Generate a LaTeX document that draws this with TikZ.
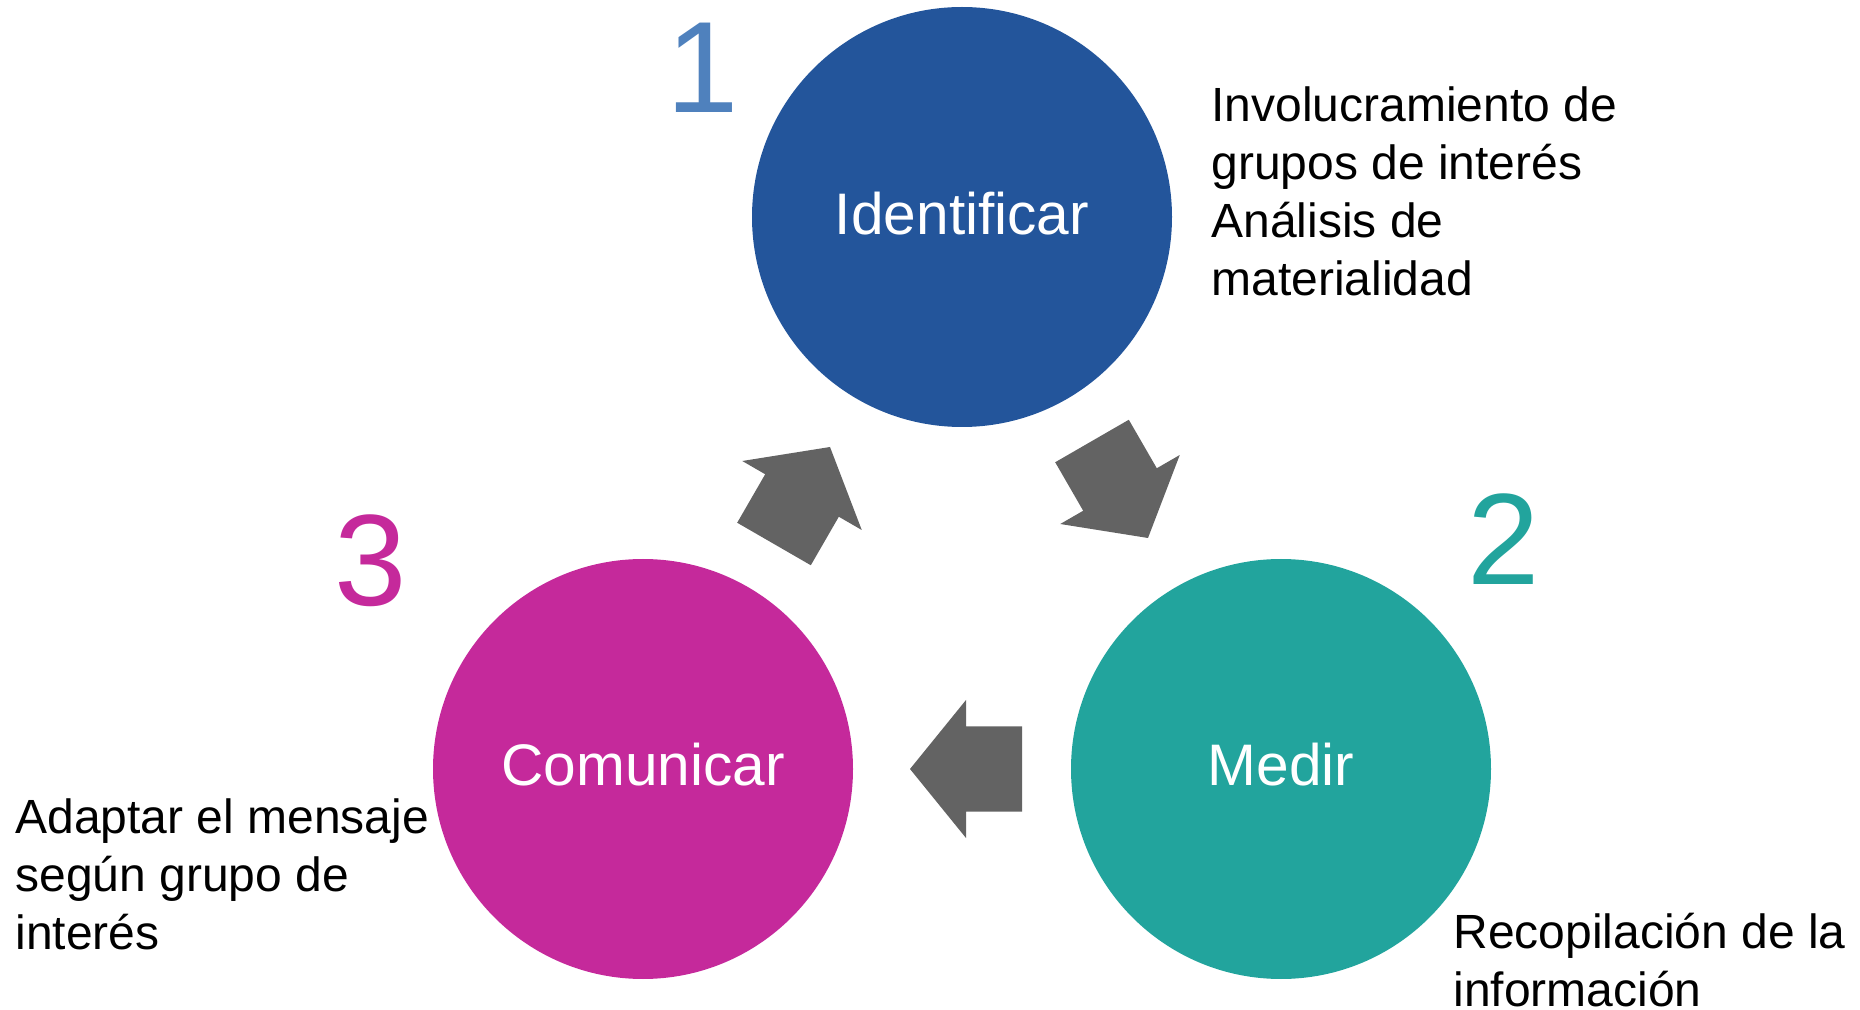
\documentclass[tikz,border=0pt]{standalone}
\usepackage{fontspec}
\setmainfont{Liberation Sans}
\definecolor{cblue}{HTML}{23559B}
\definecolor{cteal}{HTML}{22A49D}
\definecolor{cmag}{HTML}{C5299B}
\definecolor{cone}{HTML}{4F81BD}
\definecolor{cgray}{HTML}{636363}
\tikzset{
  stage/.style={circle, minimum size=210pt, inner sep=0pt},
  stagelabel/.style={text=white, font=\fontsize{29.3}{35}\selectfont, inner sep=0pt, anchor=base},
  numlabel/.style={font=\fontsize{65}{78}\selectfont, inner sep=0pt, anchor=base},
  sidetext/.style={font=\fontsize{24}{29}\selectfont, align=left, inner sep=0pt, anchor=north west},
  pics/blockarrow/.style={code={
    \fill[cgray] (0,0) -- (-56,69) -- (-56,42.5) -- (-112,42.5) -- (-112,-42.5) -- (-56,-42.5) -- (-56,-69) -- cycle;
  }}
}
\begin{document}
\begin{tikzpicture}[x=0.5pt,y=-0.5pt]
\useasboundingbox (0,0) rectangle (1860,1010);
% stages
\node[stage, fill=cblue] (ident) at (962,217) {};
\node[stage, fill=cteal] (medir) at (1281,769) {};
\node[stage, fill=cmag] (comun) at (643,769) {};
\node[stagelabel] (identlbl) at (962,235) {Identificar};
\node[stagelabel] (medirlbl) at (1281,785) {Medir};
\node[stagelabel] (comunlbl) at (643,785) {Comunicar};
% numbers
\node[numlabel, text=cone] (n1) at (703,113) {1};
\node[numlabel, text=cteal] (n2) at (1504,585) {2};
\node[numlabel, text=cmag] (n3) at (371,606) {3};
% block arrows
\coordinate (a1) at (1148,538);
\coordinate (a2) at (910,769);
\coordinate (a3) at (830,447);
\pic[rotate=-60] at (a1) {blockarrow};
\pic[rotate=180] at (a2) {blockarrow};
\pic[rotate=60] at (a3) {blockarrow};
% side texts
\node[sidetext] (t1) at (1211,86) {Involucramiento de\\grupos de interés\\Análisis de\\materialidad};
\node[sidetext] (t2) at (1453,913) {Recopilación de la\\información};
\node[sidetext] (t3) at (15,798) {Adaptar el mensaje\\según grupo de\\interés};
\end{tikzpicture}
\end{document}
